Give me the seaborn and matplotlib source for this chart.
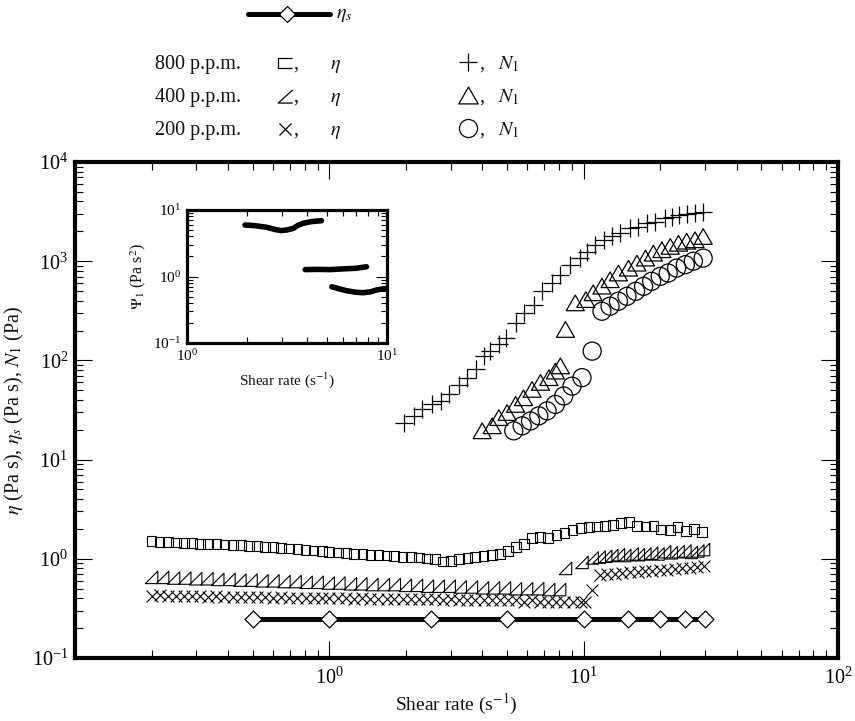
import numpy as np
import matplotlib
matplotlib.use("Agg")
import matplotlib.pyplot as plt
import seaborn as sns
from matplotlib.path import Path
from matplotlib.lines import Line2D
from matplotlib.ticker import LogLocator, NullFormatter, FixedLocator, FixedFormatter

# ---------------- data ----------------
# 800 p.p.m. shear viscosity (squares)
x_eta800 = [0.200, 0.215, 0.232, 0.249, 0.268, 0.289, 0.311, 0.334, 0.360, 0.387,
            0.417, 0.448, 0.482, 0.519, 0.559, 0.601, 0.647, 0.696, 0.749, 0.806,
            0.867, 0.933, 1.00, 1.08, 1.16, 1.25, 1.35, 1.45, 1.56, 1.68,
            1.80, 1.94, 2.09, 2.25, 2.42, 2.60, 2.80, 3.01, 3.24, 3.49,
            3.75, 4.04, 4.35, 4.68, 5.03, 5.41, 5.83, 6.27, 6.75, 7.26,
            7.81, 8.40, 9.04, 9.73, 10.5, 11.3, 12.1, 13.0, 14.0, 15.1,
            16.2, 17.5, 18.8, 20.2, 21.8, 23.4, 25.2, 27.1, 29.2]
y_eta800 = [1.50, 1.48, 1.47, 1.46, 1.45, 1.44, 1.42, 1.41, 1.40, 1.39,
            1.38, 1.37, 1.35, 1.34, 1.32, 1.31, 1.29, 1.27, 1.25, 1.23,
            1.21, 1.19, 1.17, 1.16, 1.14, 1.12, 1.11, 1.10, 1.09, 1.08,
            1.06, 1.05, 1.04, 1.03, 1.01, 0.99, 0.94, 0.95, 0.99, 1.02,
            1.04, 1.06, 1.09, 1.12, 1.20, 1.32, 1.42, 1.62, 1.66, 1.62,
            1.75, 1.83, 1.95, 2.05, 2.10, 2.12, 2.15, 2.18, 2.28, 2.35,
            2.15, 2.12, 2.15, 1.98, 1.95, 2.10, 1.92, 2.00, 1.85]

# 400 p.p.m. shear viscosity (right triangles), two runs
x_eta400a = [0.200, 0.221, 0.244, 0.270, 0.298, 0.330, 0.364, 0.403, 0.445, 0.492,
             0.543, 0.600, 0.663, 0.733, 0.810, 0.895, 0.989, 1.09, 1.21, 1.33,
             1.47, 1.63, 1.80, 1.99, 2.20, 2.43, 2.68, 2.96, 3.27, 3.62,
             4.00, 4.42, 4.88, 5.39, 5.96, 6.59, 7.28, 8.04]
y_eta400a = [0.65, 0.65, 0.64, 0.64, 0.63, 0.63, 0.62, 0.62, 0.61, 0.61,
             0.60, 0.60, 0.59, 0.59, 0.58, 0.58, 0.57, 0.57, 0.56, 0.56,
             0.55, 0.55, 0.55, 0.54, 0.54, 0.53, 0.53, 0.53, 0.52, 0.52,
             0.51, 0.51, 0.51, 0.50, 0.50, 0.50, 0.49, 0.49]
x_eta400b = [8.48, 9.85, 10.8, 11.5, 12.2, 12.9, 13.7, 14.5, 15.5, 16.4,
             17.4, 18.5, 19.6, 20.8, 22.1, 23.5, 25.0, 26.5, 28.1, 29.6]
y_eta400b = [0.80, 0.92, 1.02, 1.04, 1.06, 1.08, 1.10, 1.08, 1.12, 1.10,
             1.12, 1.14, 1.12, 1.18, 1.15, 1.18, 1.20, 1.16, 1.20, 1.24]

# 200 p.p.m. shear viscosity (crosses), two runs
x_eta200a = [0.200, 0.215, 0.232, 0.249, 0.268, 0.289, 0.311, 0.334, 0.360, 0.387,
             0.417, 0.448, 0.482, 0.519, 0.559, 0.601, 0.647, 0.696, 0.749, 0.806,
             0.867, 0.933, 1.00, 1.08, 1.16, 1.25, 1.35, 1.45, 1.56, 1.68,
             1.80, 1.94, 2.09, 2.25, 2.42, 2.60, 2.80, 3.01, 3.24, 3.49,
             3.75, 4.04, 4.35, 4.68, 5.03, 5.41, 5.83, 6.27, 6.75, 7.26,
             7.81, 8.40, 9.04, 9.73, 10.1, 10.8]
y_eta200a = [0.42, 0.43, 0.42, 0.42, 0.42, 0.42, 0.42, 0.41, 0.42, 0.41,
             0.41, 0.41, 0.41, 0.41, 0.41, 0.40, 0.41, 0.40, 0.40, 0.40,
             0.40, 0.40, 0.40, 0.40, 0.40, 0.39, 0.40, 0.39, 0.39, 0.39,
             0.39, 0.39, 0.39, 0.39, 0.39, 0.39, 0.38, 0.39, 0.38, 0.38,
             0.38, 0.38, 0.38, 0.38, 0.38, 0.38, 0.37, 0.38, 0.37, 0.37,
             0.37, 0.37, 0.37, 0.37, 0.37, 0.49]
x_eta200b = [11.6, 12.4, 13.3, 14.2, 15.2, 16.3, 17.4, 18.6, 19.9, 21.3,
             22.8, 24.4, 26.1, 27.9, 29.8]
y_eta200b = [0.68, 0.70, 0.71, 0.72, 0.74, 0.73, 0.76, 0.75, 0.77, 0.78,
             0.79, 0.80, 0.80, 0.82, 0.85]

# first normal stress difference N1
x_N800 = [1.97, 2.15, 2.32, 2.54, 2.74, 2.95, 3.23, 3.49, 3.76, 4.05,
          4.30, 4.64, 4.93, 5.40, 5.82, 6.37, 6.87, 7.50, 8.10, 8.87,
          9.70, 10.3, 11.1, 12.0, 12.9, 13.9, 15.2, 16.4, 17.7, 19.1,
          20.9, 22.2, 23.6, 25.4, 27.4, 29.5]
y_N800 = [23.6, 27.6, 32.2, 36.0, 39.0, 45.5, 57.0, 66.0, 82.0, 110,
          124, 145, 170, 240, 302, 365, 500, 605, 730, 920,
          1075, 1250, 1465, 1645, 1775, 1920, 2150, 2230, 2410, 2500,
          2710, 2820, 2930, 3000, 3030, 3150]
x_N400 = [3.99, 4.37, 4.64, 5.00, 5.40, 5.80, 6.27, 6.76, 7.30, 7.74,
          8.10, 8.48, 9.27, 10.2, 10.9, 11.8, 12.7, 13.7, 15.0, 16.2,
          17.5, 18.8, 20.3, 21.9, 23.6, 25.4, 27.4, 29.5]
y_N400 = [19.5, 21.9, 26.5, 29.8, 36.0, 42.0, 51.0, 60.0, 67.0, 78.0,
          88.0, 205, 380, 410, 480, 560, 650, 760, 850, 955,
          1075, 1205, 1305, 1410, 1515, 1590, 1645, 1775]
x_N200 = [5.31, 5.73, 6.18, 6.66, 7.18, 7.74, 8.35, 9.00, 9.85, 10.8,
          11.8, 12.7, 13.7, 14.8, 16.0, 17.2, 18.5, 20.0, 21.5, 23.2,
          25.1, 27.0, 29.5]
y_N200 = [19.5, 21.9, 24.5, 27.6, 31.0, 36.0, 43.8, 55.0, 67.0, 124,
          313, 352, 395, 443, 497, 558, 627, 703, 760, 853,
          922, 1000, 1075]

# solvent viscosity
x_etas = [0.5, 1.0, 2.5, 5.0, 10.0, 15.0, 20.0, 25.0, 30.0]
y_etas = [0.245, 0.245, 0.245, 0.245, 0.245, 0.245, 0.245, 0.245, 0.245]

# inset: Psi_1
x_psi800 = [1.95, 2.2, 2.5, 2.75, 2.95, 3.15, 3.4, 3.6, 3.8, 4.2, 4.7]
y_psi800 = [5.95, 5.8, 5.5, 5.1, 4.9, 5.0, 5.3, 5.9, 6.3, 6.7, 6.9]
x_psi400 = [3.9, 4.5, 5.2, 6.0, 7.0, 7.9]
y_psi400 = [1.27, 1.28, 1.27, 1.30, 1.33, 1.40]
x_psi200 = [5.3, 5.8, 6.3, 7.0, 7.6, 8.3, 8.9, 9.5, 10.0]
y_psi200 = [0.70, 0.65, 0.61, 0.58, 0.57, 0.59, 0.63, 0.65, 0.66]

legend_conc = ["800 p.p.m.", "400 p.p.m.", "200 p.p.m."]
main_xticks = [0.1, 1, 10, 100]
main_xticklabels = ["", r"$\mathdefault{10^{0}}$", r"$\mathdefault{10^{1}}$",
                    r"$\mathdefault{10^{2}}$"]

# ---------------- style ----------------
sns.set_theme(style="ticks")
plt.rcParams["font.family"] = ["Liberation Serif", "DejaVu Serif"]
plt.rcParams["mathtext.fontset"] = "stix"
plt.rcParams["text.color"] = "#111111"
plt.rcParams["axes.edgecolor"] = "black"
plt.rcParams["xtick.color"] = "black"
plt.rcParams["ytick.color"] = "black"
plt.rcParams["axes.labelcolor"] = "#111111"

W, H = 855, 721
fig = plt.figure(figsize=(W / 100, H / 100), dpi=100)


def fx(px):
    return px / W


def fy(py):
    return 1 - py / H


rtri = Path([(-1, -1), (1, 1), (1, -1), (-1, -1)],
            [Path.MOVETO, Path.LINETO, Path.LINETO, Path.CLOSEPOLY])
etri = Path([(0, 0.866), (-1, -0.866), (1, -0.866), (0, 0.866)],
            [Path.MOVETO, Path.LINETO, Path.LINETO, Path.CLOSEPOLY])
sqopen = Path([(1, 0.7), (-1, 0.7), (-1, -0.7), (1, -0.7)],
              [Path.MOVETO, Path.LINETO, Path.LINETO, Path.LINETO])
angle = Path([(1, 0.9), (-1, -0.9), (1, -0.9)],
             [Path.MOVETO, Path.LINETO, Path.LINETO])


def pts(a, x, y, marker, ms, lw=0.8, face="none", z=3):
    if marker in ("+", "x"):
        sns.scatterplot(x=x, y=y, marker=marker, s=ms ** 2, color="black",
                        linewidth=lw, ax=a, zorder=z, legend=False)
    else:
        sns.scatterplot(x=x, y=y, marker=marker, s=ms ** 2, facecolor=face,
                        edgecolor="black", linewidth=lw, ax=a, zorder=z,
                        legend=False)


# ---------------- main axes ----------------
ax = fig.add_axes([fx(75), fy(658), (838 - 75) / W, (658 - 162) / H])
ax.set_xscale("log")
ax.set_yscale("log")

sns.lineplot(x=x_etas, y=y_etas, color="black", linewidth=3.6, ax=ax,
             zorder=2, legend=False)
pts(ax, x_etas, y_etas, "D", 8.6, lw=0.9, face="white", z=4)

pts(ax, x_eta800, y_eta800, "s", 7.0, lw=0.8)
pts(ax, x_eta400a, y_eta400a, rtri, 9, lw=0.8)
pts(ax, x_eta400b, y_eta400b, rtri, 9, lw=0.8)
pts(ax, x_eta200a, y_eta200a, "x", 8.5, lw=0.8)
pts(ax, x_eta200b, y_eta200b, "x", 8.5, lw=0.8)

pts(ax, x_N800, y_N800, "+", 12.5, lw=0.9)
pts(ax, x_N400, y_N400, etri, 13, lw=0.9)
pts(ax, x_N200, y_N200, "o", 13, lw=0.9)

ax.set_xlim(0.1, 100)
ax.set_ylim(0.1, 1e4)
ax.yaxis.set_major_locator(LogLocator(base=10, numticks=12))
ax.xaxis.set_major_locator(FixedLocator(main_xticks))
ax.xaxis.set_major_formatter(FixedFormatter(main_xticklabels))
for axis in (ax.xaxis, ax.yaxis):
    axis.set_minor_locator(LogLocator(base=10, subs=np.arange(2, 10), numticks=12))
    axis.set_minor_formatter(NullFormatter())
ax.tick_params(which="both", direction="in", top=True, right=True,
               labelsize=14.5, width=0.8)
ax.tick_params(which="major", length=12)
ax.tick_params(which="minor", length=5.5)
ax.tick_params(axis="x", which="major", pad=7)
ax.tick_params(axis="y", which="major", pad=5)
for sp in ax.spines.values():
    sp.set_linewidth(3.0)
ax.set_xlabel("Shear rate (s$^{-1}$)", fontsize=14, labelpad=2)
ax.set_ylabel(r"$\eta$ (Pa s), $\eta_s$ (Pa s), $N_1$ (Pa)", fontsize=14.5,
              labelpad=4)

# ---------------- inset ----------------
axin = fig.add_axes([fx(187), fy(343), 200 / W, 133 / H])
axin.set_xscale("log")
axin.set_yscale("log")
for xs, ys in ((x_psi800, y_psi800), (x_psi400, y_psi400), (x_psi200, y_psi200)):
    sns.lineplot(x=xs, y=ys, color="black", linewidth=4.0, ax=axin, legend=False)
axin.set_xlim(1, 10)
axin.set_ylim(0.1, 10)
for axis in (axin.xaxis, axin.yaxis):
    axis.set_major_locator(LogLocator(base=10, numticks=12))
    axis.set_minor_locator(LogLocator(base=10, subs=np.arange(2, 10), numticks=12))
    axis.set_minor_formatter(NullFormatter())
axin.tick_params(which="both", direction="in", top=True, right=True,
                 labelsize=11, width=0.8, pad=4)
axin.tick_params(which="major", length=8)
axin.tick_params(which="minor", length=4)
for sp in axin.spines.values():
    sp.set_linewidth(2.3)
axin.set_xlabel("Shear rate (s$^{-1}$)", fontsize=11, labelpad=4)
axin.set_ylabel(r"$\mathit{\Psi}_1$ (Pa s$^2$)", fontsize=11.5, labelpad=4)

# ---------------- legend block above the axes ----------------
fig.add_artist(Line2D([fx(248), fx(330)], [fy(14), fy(14)], color="black",
                      linewidth=3.6, transform=fig.transFigure))
fig.add_artist(Line2D([fx(287)], [fy(14)], marker="D", markersize=8.6,
                      markerfacecolor="white", markeredgecolor="black",
                      markeredgewidth=0.9, linestyle="none",
                      transform=fig.transFigure))
fig.text(fx(336), fy(14), r"$\eta_s$", fontsize=14.5, va="center", ha="left")

row_y = [62, 95, 128]
left_marks = [sqopen, angle, "x"]
left_ms = [10.5, 10.5, 9]
right_marks = ["+", etri, "o"]
right_ms = [12.5, 14, 13]
for i, conc in enumerate(legend_conc):
    yc = row_y[i]
    fig.text(fx(155), fy(yc + 7), conc, fontsize=14.5, va="baseline", ha="left")
    fig.add_artist(Line2D([fx(285)], [fy(yc + 1)], marker=left_marks[i],
                          markersize=left_ms[i], markerfacecolor="none",
                          markeredgecolor="black", markeredgewidth=0.9,
                          linestyle="none", fillstyle="none",
                          transform=fig.transFigure))
    fig.text(fx(293), fy(yc + 7), ",", fontsize=14.5, va="baseline", ha="left")
    fig.text(fx(330), fy(yc + 7), r"$\eta$", fontsize=14.5, va="baseline", ha="left")
    fig.add_artist(Line2D([fx(468)], [fy(yc)], marker=right_marks[i],
                          markersize=right_ms[i], markerfacecolor="none",
                          markeredgecolor="black", markeredgewidth=0.9,
                          linestyle="none", fillstyle="none",
                          transform=fig.transFigure))
    fig.text(fx(479), fy(yc + 7), ",", fontsize=14.5, va="baseline", ha="left")
    fig.text(fx(498), fy(yc + 7), r"$N_1$", fontsize=14.5, va="baseline", ha="left")

fig.savefig("out.png", dpi=100)
